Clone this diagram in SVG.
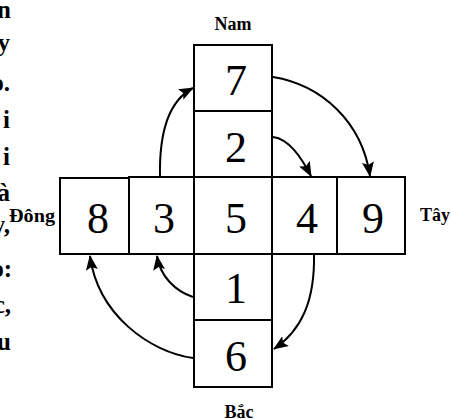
<svg xmlns="http://www.w3.org/2000/svg" width="451" height="419" viewBox="0 0 451 419">
  <style>
    .cell { fill: #ffffff; stroke: #000000; stroke-width: 2; }
    .num { font-family: "Liberation Serif", "Times New Roman", serif; font-size: 44px; fill: #000000; text-anchor: middle; }
    .dir { font-family: "Liberation Serif", "Times New Roman", serif; font-size: 18px; font-weight: bold; fill: #000000; }
    .side { font-family: "Liberation Serif", "Times New Roman", serif; font-size: 25px; font-weight: bold; fill: #000000; text-anchor: end; }
    .link { fill: none; stroke: #000000; stroke-width: 2; marker-end: url(#head); }
  </style>
  <defs>
    <marker id="head" markerUnits="userSpaceOnUse" markerWidth="16" markerHeight="12" refX="14" refY="6" orient="auto">
      <path d="M0,0 L15,6 L0,12 L3,6 z" fill="#000000"/>
    </marker>
  </defs>
  <rect width="451" height="419" fill="#ffffff"/>

  <!-- clipped ends of the neighbouring text column -->
  <g id="margin-text">
    <text class="side" x="11" y="18">n</text>
    <text class="side" x="10" y="51">y</text>
    <text class="side" x="10" y="91">o.</text>
    <text class="side" x="10" y="128">i</text>
    <text class="side" x="10" y="165">i</text>
    <text class="side" x="10" y="201">à</text>
    <text class="side" x="10" y="233">y,</text>
    <text class="side" x="12" y="277">o:</text>
    <text class="side" x="11" y="313">c,</text>
    <text class="side" x="11" y="350">u</text>
  </g>

  <!-- compass labels -->
  <g id="labels">
    <text class="dir" x="233" y="30" text-anchor="middle">Nam</text>
    <text class="dir" x="9" y="222" textLength="46" lengthAdjust="spacingAndGlyphs">Đông</text>
    <text class="dir" x="420" y="221">Tây</text>
    <text class="dir" x="239" y="418" text-anchor="middle">Bắc</text>
  </g>

  <g id="cell-7"><rect class="cell" x="194" y="45" width="78" height="66"/><text class="num" x="236" y="95">7</text></g>
  <g id="cell-2"><rect class="cell" x="194" y="111" width="78" height="66"/><text class="num" x="236" y="162">2</text></g>
  <g id="cell-8"><rect class="cell" x="60" y="178" width="69" height="76"/><text class="num" x="98" y="233">8</text></g>
  <g id="cell-3"><rect class="cell" x="129" y="177" width="65" height="77"/><text class="num" x="164" y="233">3</text></g>
  <g id="cell-5"><rect class="cell" x="194" y="177" width="78" height="77"/><text class="num" x="236" y="233">5</text></g>
  <g id="cell-4"><rect class="cell" x="272" y="177" width="65" height="77"/><text class="num" x="307" y="233">4</text></g>
  <g id="cell-9"><rect class="cell" x="337" y="177" width="68" height="77"/><text class="num" x="373" y="233">9</text></g>
  <g id="cell-1"><rect class="cell" x="194" y="254" width="78" height="66"/><text class="num" x="236" y="303">1</text></g>
  <g id="cell-6"><rect class="cell" x="194" y="320" width="78" height="67"/><text class="num" x="236" y="371">6</text></g>

  <g id="connectors">
    <path class="link" d="M160,177 C159,130 170,100 193,88"/>
    <path class="link" d="M273,77 C322,85 362,122 370,176"/>
    <path class="link" d="M273,137 C289,139 301,157 311,176"/>
    <path class="link" d="M314,254 C315,300 302,330 274,349"/>
    <path class="link" d="M193,297 C175,291 160,276 157,256"/>
    <path class="link" d="M193,358 C150,352 98,315 90,256"/>
  </g>
</svg>
